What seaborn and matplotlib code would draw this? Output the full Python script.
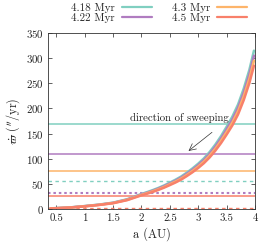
import numpy as np
import pandas as pd
import seaborn as sns
import matplotlib.pyplot as plt
from matplotlib.lines import Line2D
from matplotlib.ticker import FormatStrFormatter

# semi-major axis grid (AU) and precession rates ("/yr)
a_au = [0.4, 0.5, 0.75, 1.0, 1.25, 1.5, 1.75, 1.9, 2.0, 2.1, 2.2, 2.3, 2.4, 2.5,
        2.6, 2.7, 2.8, 2.9, 3.0, 3.1, 3.2, 3.3, 3.4, 3.5, 3.6, 3.7, 3.8, 3.9, 3.98]
rate_418 = [1.3, 1.7, 3.2, 5.8, 8.7, 12.6, 19.4, 25.7, 29.9, 33.6, 37.6, 42.0, 46.9, 52.5,
            58.3, 64.7, 72.5, 80.9, 90.3, 100.8, 113.4, 128.1, 144.9, 163.8, 183.8,
            207.9, 239.4, 277.2, 315.0]
rate_422 = [1.2, 1.6, 3.1, 5.6, 8.4, 12.2, 18.8, 24.9, 29.0, 32.5, 36.4, 40.7, 45.5, 50.9,
            56.4, 62.6, 70.2, 78.3, 87.5, 97.6, 109.8, 124.1, 140.3, 158.7, 178.0,
            201.4, 231.9, 268.5, 305.0]
rate_43 = [1.2, 1.6, 2.9, 5.4, 8.2, 11.8, 18.2, 24.1, 28.0, 31.5, 35.2, 39.3, 43.9, 49.2,
           54.6, 60.6, 67.8, 75.7, 84.5, 94.4, 106.2, 119.9, 135.7, 153.3, 172.0,
           194.6, 224.1, 259.5, 295.0]
rate_45 = [1.1, 1.5, 2.9, 5.2, 7.9, 11.4, 17.6, 23.3, 27.1, 30.4, 34.0, 38.0, 42.5, 47.5,
           52.7, 58.5, 65.6, 73.2, 81.7, 91.2, 102.6, 115.9, 131.1, 148.2, 166.3,
           188.1, 216.6, 250.8, 285.0]

labels = ["4.18 Myr", "4.22 Myr", "4.3 Myr", "4.5 Myr"]
colors = ["#80cfc0", "#b07cc0", "#fdb46a", "#f8806a"]

# planet frequencies (solid) and second set (dashed)
solid_levels = [170, 110, 75, 25]
dashed_levels = [55, 31, None, 2]

sns.set_theme(style="ticks")
plt.rcParams["font.family"] = ["cmr10", "DejaVu Serif"]
plt.rcParams["mathtext.fontset"] = "cm"
plt.rcParams["axes.formatter.use_mathtext"] = True

fig = plt.figure(figsize=(2.74, 2.45), dpi=100)
ax = fig.add_axes([0.174, 0.147, 0.757, 0.718])

series = [rate_418, rate_422, rate_43, rate_45]
for lab, col, vals in zip(labels, colors, series):
    df = pd.DataFrame({"a": a_au, "rate": vals})
    sns.lineplot(data=df, x="a", y="rate", color=col, lw=1.8, ax=ax, zorder=3)

for col, lev in zip(colors, solid_levels):
    ax.axhline(lev, color=col, lw=1.1, zorder=1)
for i, (col, lev) in enumerate(zip(colors, dashed_levels)):
    if lev is None:
        continue
    if i == 1:
        ax.axhline(lev, color=col, lw=1.5, ls=(0, (1.2, 1.4)), zorder=1)
    else:
        ax.axhline(lev, color=col, lw=1.0, ls=(0, (2.5, 2.5)), zorder=1)

ax.annotate("", xy=(2.79, 112), xytext=(3.28, 156),
            arrowprops=dict(arrowstyle="->", lw=0.5, color="#333333"))
ax.text(2.66, 181, "direction of sweeping", ha="center", va="center",
        fontsize=7.8, color="#222222")

ax.set_xlim(0.35, 4)
ax.set_ylim(0, 350)
ax.set_xticks(np.arange(0.5, 4.01, 0.5))
ax.set_yticks(np.arange(0, 351, 50))
ax.xaxis.set_major_formatter(FormatStrFormatter("%g"))
ax.tick_params(direction="in", top=True, right=True, length=3, width=0.5,
               labelsize=7.8, colors="#222222", pad=3)
for s in ax.spines.values():
    s.set_linewidth(0.6)
    s.set_color("#333333")
    s.set_visible(True)

ax.set_xlabel("a (AU)", fontsize=8.8, color="#222222", labelpad=3)
ax.set_ylabel(r"$\dot{\varpi}$ ($^{\prime\prime}$/yr)", fontsize=8.8,
              color="#222222", labelpad=3)

handles = [Line2D([], [], color=c, lw=1.6) for c in colors]
fig.legend(handles, labels, ncol=2, markerfirst=False, frameon=False, fontsize=8,
           loc="upper center", bbox_to_anchor=(0.58, 1.03), handlelength=2.7,
           columnspacing=1.8, labelspacing=0.05, handletextpad=0.6)

fig.savefig("out.png", dpi=100)
